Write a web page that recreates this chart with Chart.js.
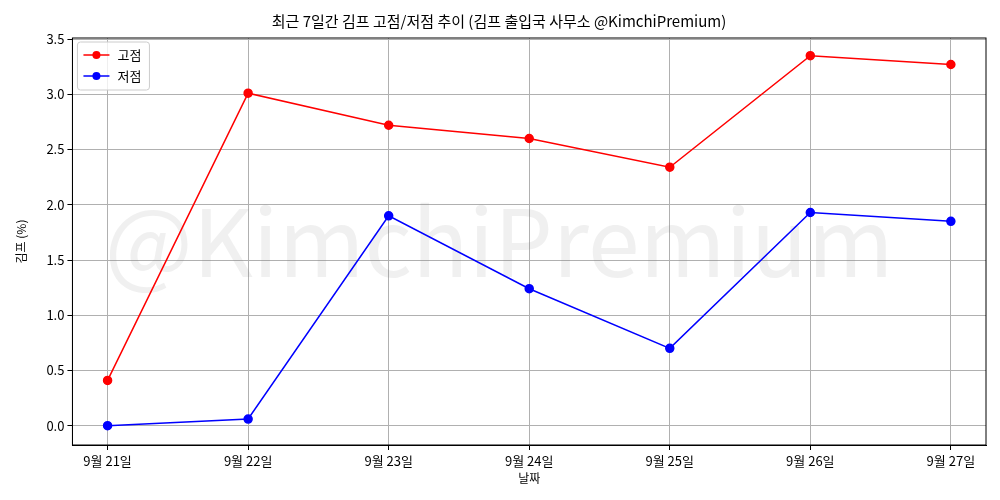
<!DOCTYPE html>
<html><head><meta charset="utf-8">
<script src="https://cdn.jsdelivr.net/npm/chart.js@4"></script>
<style>body{margin:0;background:#fff}#w{width:1000px;height:500px}</style>
</head><body><div id="w"><canvas id="c"></canvas></div>
<script>
const categories=['9월 21일','9월 22일','9월 23일','9월 24일','9월 25일','9월 26일','9월 27일'];
const highs=[0.41,3.01,2.72,2.60,2.34,3.35,3.27];
const lows=[0.00,0.06,1.90,1.24,0.70,1.93,1.85];
const F='"Noto Sans CJK KR","Noto Sans",sans-serif';
Chart.defaults.font.family=F;Chart.defaults.color='#000';
const wm={id:'wm',beforeDatasetsDraw(ch){const {ctx,chartArea:a}=ch;ctx.save();ctx.font='93px '+F;ctx.fillStyle='rgba(128,128,128,0.12)';ctx.textAlign='center';ctx.textBaseline='middle';ctx.fillText('@KimchiPremium',(a.left+a.right)/2-30,(a.top+a.bottom)/2);ctx.restore();},
afterDraw(ch){const {ctx,chartArea:a}=ch;ctx.save();ctx.strokeStyle='#000';ctx.lineWidth=1;ctx.strokeRect(a.left,a.top,a.right-a.left,a.bottom-a.top);
const x=a.left+5,y=a.top+4;ctx.fillStyle='rgba(255,255,255,0.8)';ctx.strokeStyle='#ccc';ctx.beginPath();ctx.roundRect(x,y,72,48,3);ctx.fill();ctx.stroke();
[['고점','#f00'],['저점','#00f']].forEach((l,i)=>{const yy=y+13+i*21;ctx.strokeStyle=l[1];ctx.fillStyle=l[1];ctx.lineWidth=1.5;ctx.beginPath();ctx.moveTo(x+6,yy);ctx.lineTo(x+32,yy);ctx.stroke();ctx.beginPath();ctx.arc(x+19,yy,4,0,7);ctx.fill();ctx.fillStyle='#000';ctx.font='13px '+F;ctx.textBaseline='middle';ctx.fillText(l[0],x+40,yy);});ctx.restore();}};
new Chart(document.getElementById('c'),{type:'line',
data:{datasets:[
{label:'고점',data:highs.map((v,i)=>({x:i,y:v})),borderColor:'#f00',backgroundColor:'#f00',borderWidth:1.5,pointRadius:4,pointHoverRadius:4},
{label:'저점',data:lows.map((v,i)=>({x:i,y:v})),borderColor:'#00f',backgroundColor:'#00f',borderWidth:1.5,pointRadius:4,pointHoverRadius:4}]},
plugins:[wm],
options:{responsive:true,maintainAspectRatio:false,animation:false,
layout:{padding:{left:12,right:14,top:6,bottom:14}},
plugins:{legend:{display:false},tooltip:{enabled:false},title:{display:true,text:'최근 7일간 김프 고점/저점 추이 (김프 출입국 사무소 @KimchiPremium)',font:{size:15,weight:'normal'},padding:{top:6,bottom:8}}},
scales:{x:{type:'linear',min:-0.25,max:6.25,afterBuildTicks(s){s.ticks=categories.map((c,i)=>({value:i}));},
ticks:{callback:(v)=>categories[v],font:{size:13},maxRotation:0,autoSkip:false},grid:{color:'#b0b0b0',tickLength:5,tickColor:'#000'},border:{color:'#000'},
title:{display:true,text:'날짜',font:{size:12},padding:0}},
y:{min:-0.175,max:3.51,afterBuildTicks(s){s.ticks=[0,0.5,1,1.5,2,2.5,3,3.5].map(v=>({value:v}));},
ticks:{callback:v=>v.toFixed(1),font:{size:13}},grid:{color:'#b0b0b0',tickLength:5,tickColor:'#000'},border:{color:'#000'},
title:{display:true,text:'김프 (%)',font:{size:12},padding:{top:2,bottom:15}}}}}});
</script></body></html>
